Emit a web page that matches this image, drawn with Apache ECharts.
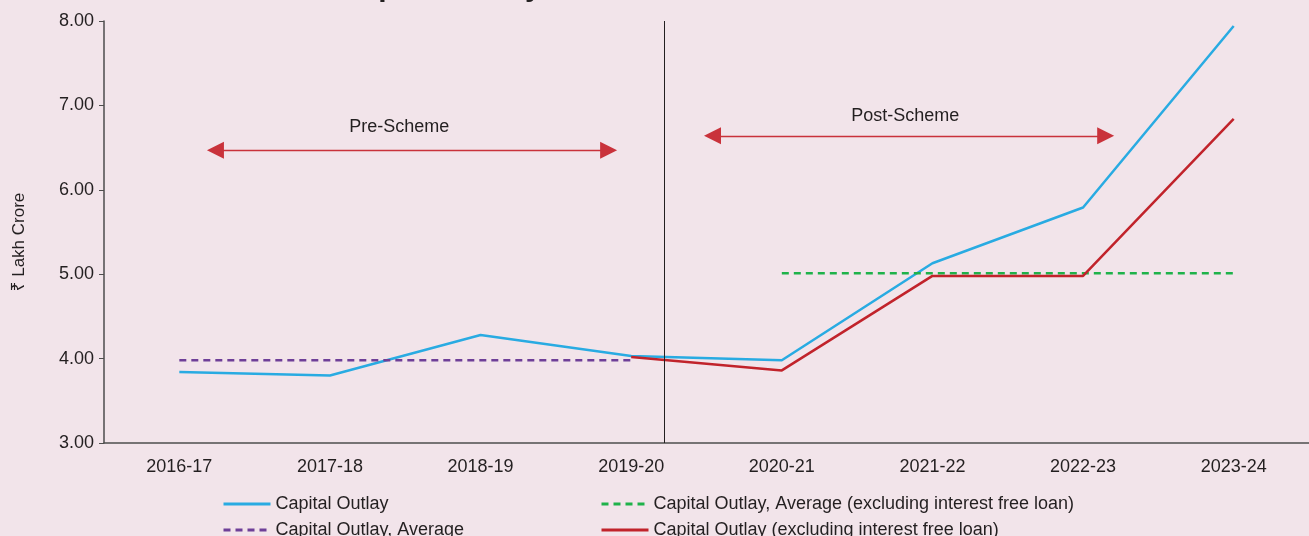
<!DOCTYPE html>
<html>
<head>
    <meta charset="utf-8"/>
    <title>Capital Outlay</title>
    <script src="https://cdn.jsdelivr.net/npm/echarts@6/dist/echarts.min.js"></script>
    <style>
        html, body {
            margin: 0;
            padding: 0;
            background: #f2e4ea;
        }
        #chart {
            width: 1309px;
            height: 536px;
        }
    </style>
</head>
<body>
<div id="chart"></div>

<script type="text/javascript">
    // data (₹ lakh crore)
    let years = ['2016-17', '2017-18', '2018-19', '2019-20', '2020-21', '2021-22', '2022-23', '2023-24'];
    let capitalOutlay = [3.84, 3.80, 4.28, 4.03, 3.98, 5.13, 5.79, 7.94];
    let capitalOutlayExLoan = [null, null, null, 4.02, 3.86, 4.98, 4.98, 6.84];
    let preAverage = [3.98, 3.98, 3.98, 3.98, null, null, null, null];
    let postAverage = [null, null, null, null, 5.01, 5.01, 5.01, 5.01];
    let yTicks = [3, 4, 5, 6, 7, 8];

    // annotations, in category units on a hidden value axis
    let schemeSplit = 3.72;
    let preArrow = [[0.74, 6.47], [3.35, 6.47]];
    let postArrow = [[4.04, 6.64], [6.65, 6.64]];
    let arrowLabels = [
        {name: 'Pre-Scheme', value: [1.96, 6.74]},
        {name: 'Post-Scheme', value: [5.32, 6.87]}
    ];

    let font = 'Liberation Sans, Arial, Noto Sans, sans-serif';
    let ink = '#231f20';

    let legendCommon = {
        orient: 'vertical',
        top: 495,
        height: 80,
        padding: 0,
        itemWidth: 47,
        itemHeight: 14,
        itemGap: 8,
        itemStyle: {opacity: 0},
        lineStyle: {width: 3},
        textStyle: {fontSize: 18, color: ink}
    };

    let chart = echarts.init(document.getElementById('chart'));
    chart.setOption({
        backgroundColor: '#f2e4ea',
        textStyle: {fontFamily: font},
        animation: false,
        // chart title, cropped at the top edge of the picture
        graphic: [{
            type: 'text',
            left: 340,
            top: -27,
            silent: true,
            style: {
                text: 'Capital Outlay',
                font: 'bold 30px ' + font,
                fill: ink
            }
        }],
        grid: {left: 104, right: -3, top: 21, bottom: 93},
        legend: [
            Object.assign({}, legendCommon, {
                left: 222,
                data: ['Capital Outlay', 'Capital Outlay, Average']
            }),
            Object.assign({}, legendCommon, {
                left: 600,
                data: ['Capital Outlay, Average (excluding interest free loan)', 'Capital Outlay (excluding interest free loan)']
            })
        ],
        xAxis: [
            {
                type: 'category',
                data: years,
                boundaryGap: true,
                axisLine: {lineStyle: {color: '#4d4d4d', width: 1.5}},
                axisTick: {length: 5, lineStyle: {color: '#4d4d4d'}},
                axisLabel: {fontSize: 18, color: ink, margin: 15}
            },
            {
                type: 'value',
                min: 0,
                max: 8,
                show: false
            }
        ],
        yAxis: {
            type: 'value',
            min: yTicks[0],
            max: yTicks[yTicks.length - 1],
            interval: 1,
            name: '₹ Lakh Crore',
            nameLocation: 'middle',
            nameGap: 76,
            nameTextStyle: {fontSize: 17, color: ink, padding: [0, 20, 0, 0]},
            axisLine: {show: true, lineStyle: {color: '#4d4d4d', width: 1.5}},
            axisTick: {show: true, length: 5, lineStyle: {color: '#4d4d4d'}},
            axisLabel: {fontSize: 18, color: ink, margin: 10, formatter: function (v) { return v.toFixed(2); }},
            splitLine: {show: false}
        },
        series: [
            {
                name: 'Capital Outlay',
                type: 'line',
                data: capitalOutlay,
                symbol: 'none',
                color: '#29abe2',
                lineStyle: {width: 2.5}
            },
            {
                name: 'Capital Outlay, Average',
                type: 'line',
                data: preAverage,
                symbol: 'none',
                color: '#6e3f98',
                lineStyle: {width: 2.5, type: [7, 5]}
            },
            {
                name: 'Capital Outlay, Average (excluding interest free loan)',
                type: 'line',
                data: postAverage,
                symbol: 'none',
                color: '#1fb24a',
                lineStyle: {width: 2.5, type: [7, 5]}
            },
            {
                name: 'Capital Outlay (excluding interest free loan)',
                type: 'line',
                data: capitalOutlayExLoan,
                symbol: 'none',
                color: '#c1232b',
                lineStyle: {width: 2.5}
            },
            {
                name: 'notes',
                type: 'scatter',
                xAxisIndex: 1,
                symbolSize: 0,
                itemStyle: {opacity: 1},
                data: arrowLabels,
                label: {
                    show: true,
                    position: 'inside',
                    formatter: '{b}',
                    fontSize: 18,
                    color: ink
                },
                silent: true,
                markLine: {
                    silent: true,
                    animation: false,
                    label: {show: false},
                    symbol: ['triangle', 'triangle'],
                    symbolSize: [17, 17],
                    lineStyle: {color: '#c9323b', width: 1.3, type: 'solid', opacity: 1},
                    emphasis: {disabled: true},
                    data: [
                        [{coord: preArrow[0]}, {coord: preArrow[1]}],
                        [{coord: postArrow[0]}, {coord: postArrow[1]}]
                    ]
                }
            },
            {
                name: 'divider',
                type: 'line',
                xAxisIndex: 1,
                data: [],
                silent: true,
                markLine: {
                    silent: true,
                    animation: false,
                    label: {show: false},
                    symbol: ['none', 'none'],
                    lineStyle: {color: ink, width: 1, type: 'solid'},
                    emphasis: {disabled: true},
                    data: [{xAxis: schemeSplit}]
                }
            }
        ]
    });
</script>
</body>
</html>
